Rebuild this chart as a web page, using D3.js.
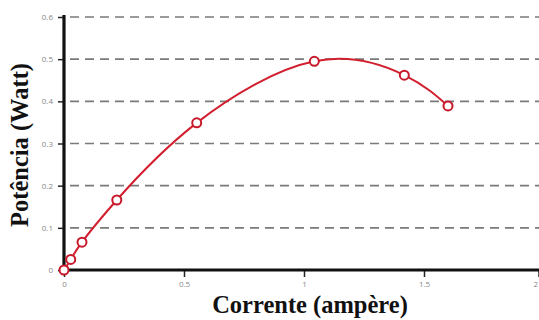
<!DOCTYPE html>
<html><head><meta charset="utf-8">
<script src="https://cdn.jsdelivr.net/npm/d3@7"></script>
<style>body{margin:0;background:#fff}svg{display:block}</style>
</head><body>
<svg id="c" width="539" height="320"></svg>
<script>
const current = [0, 0.028, 0.075, 0.22, 0.553, 1.043, 1.418, 1.60];
const power   = [0, 0.025, 0.066, 0.166, 0.349, 0.495, 0.462, 0.389];
const xTicks = [0, 0.5, 1, 1.5, 2];
const yTicks = [0, 0.1, 0.2, 0.3, 0.4, 0.5, 0.6];
const xTickLabels = ["0", "0.5", "1", "1.5", "2"];
const yTickLabels = ["0", "0.1", "0.2", "0.3", "0.4", "0.5", "0.6"];

const svg = d3.select("#c");
const x = d3.scaleLinear().domain([0, 2]).range([64, 544]);
const y = d3.scaleLinear().domain([0, 0.6]).range([270, 17]);

// gridlines
svg.append("g").selectAll("line").data(yTicks.filter(d => d > 0)).join("line")
  .attr("x1", 70).attr("x2", 539)
  .attr("y1", d => y(d)).attr("y2", d => y(d))
  .attr("stroke", "#7a7a7a").attr("stroke-width", 1.6)
  .attr("stroke-dasharray", "9,6");

// y axis
const ya = svg.append("g").attr("transform", "translate(64,0)")
  .call(d3.axisLeft(y).tickValues(yTicks).tickFormat((d, i) => yTickLabels[i]).tickSize(6).tickPadding(5));
ya.select(".domain").remove();
ya.selectAll(".tick line").attr("stroke", "#222").attr("stroke-width", 1.5);
ya.selectAll(".tick text").attr("fill", "#888").attr("font-size", 8).attr("font-family", "Open Sans, sans-serif");

// x axis
const xa = svg.append("g").attr("transform", "translate(0,270)")
  .call(d3.axisBottom(x).tickValues(xTicks).tickFormat((d, i) => xTickLabels[i]).tickSize(7).tickPadding(4));
xa.select(".domain").remove();
xa.selectAll(".tick line").attr("stroke", "#222").attr("stroke-width", 1.5);
xa.selectAll(".tick text").attr("fill", "#888").attr("font-size", 8).attr("font-family", "Open Sans, sans-serif");
// keep the last label (at the chart's edge) inside the picture
xa.selectAll(".tick").filter(d => x(d) > 539).each(function(d) {
  const t = d3.select(this);
  t.attr("transform", "translate(539,0)");
  t.select("text").attr("text-anchor", "end").attr("dx", "-1");
});

// axis lines
svg.append("line").attr("x1", 64).attr("x2", 64).attr("y1", 15).attr("y2", 271.5)
  .attr("stroke", "#111").attr("stroke-width", 3.2);
svg.append("line").attr("x1", 62.4).attr("x2", 539).attr("y1", 270).attr("y2", 270)
  .attr("stroke", "#111").attr("stroke-width", 3.2);

// line
const pts = current.map((c, i) => [c, power[i]]);
svg.append("path").datum(pts)
  .attr("d", d3.line().x(d => x(d[0])).y(d => y(d[1])).curve(d3.curveNatural))
  .attr("fill", "none").attr("stroke", "#d21f2f").attr("stroke-width", 2);

svg.append("g").selectAll("circle").data(pts).join("circle")
  .attr("cx", d => x(d[0])).attr("cy", d => y(d[1])).attr("r", 4.5)
  .attr("fill", "#fff").attr("stroke", "#c8192b").attr("stroke-width", 2);

// labels
svg.append("text").attr("x", 310).attr("y", 313).attr("text-anchor", "middle")
  .attr("font-family", "Liberation Serif, Times New Roman, serif").attr("font-weight", "bold")
  .attr("font-size", 24.5).attr("fill", "#111").text("Corrente (ampère)");
svg.append("text").attr("transform", "translate(28,145) rotate(-90)").attr("text-anchor", "middle")
  .attr("font-family", "Liberation Serif, Times New Roman, serif").attr("font-weight", "bold")
  .attr("font-size", 24.5).attr("fill", "#111").text("Potência (Watt)");
</script>
</body></html>
